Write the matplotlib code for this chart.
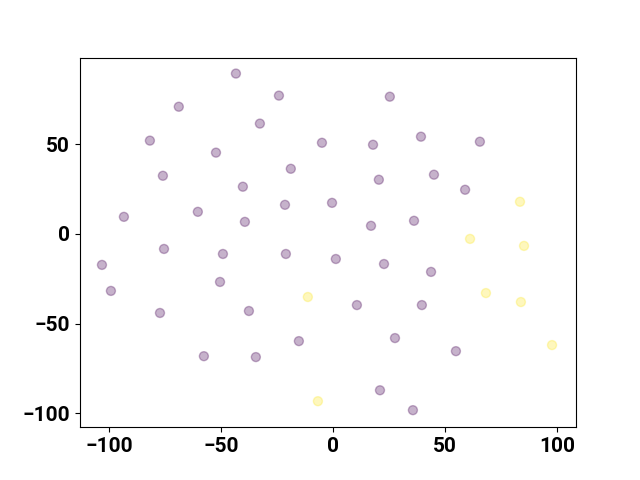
import matplotlib
matplotlib.use("Agg")
import matplotlib.pyplot as plt
import numpy as np

x = [-43.3, -68.8, -24.1, 25.4, -81.7, -52.2, -32.6, -4.9, 17.9, 39.3, 65.6,
     -75.9, -40.2, -18.8, 20.5, 45.1, 59.0, 83.5, -93.3, -60.3, -39.3, -21.4,
     -0.4, 17.0, 36.2, 61.2, 85.3, -75.4, -49.1, -21.0, 1.3, -103.1, 22.8,
     43.8, -99.1, -50.4, -11.2, 68.3, -37.5, 10.7, 39.7, 83.9, -77.2, -15.2,
     27.7, 54.9, 97.8, -57.6, -34.4, 21.0, -6.7, 35.7]
y = [89.4, 70.9, 77.1, 76.5, 52.0, 45.3, 61.5, 50.8, 49.7, 54.2, 51.4,
     32.4, 26.3, 36.3, 30.2, 33.0, 24.6, 17.9, 9.5, 12.3, 6.7, 16.2,
     17.3, 4.5, 7.3, -2.8, -6.7, -8.4, -11.2, -11.2, -14.0, -17.3, -16.8,
     -21.2, -31.8, -26.8, -35.2, -33.0, -43.0, -39.7, -39.7, -38.0, -44.1, -59.8,
     -58.1, -65.4, -62.0, -68.2, -68.7, -87.2, -93.3, -98.3]
label = [0, 0, 0, 0, 0, 0, 0, 0, 0, 0, 0,
         0, 0, 0, 0, 0, 0, 1, 0, 0, 0, 0,
         0, 0, 0, 1, 1, 0, 0, 0, 0, 0, 0,
         0, 0, 0, 1, 1, 0, 0, 0, 1, 0, 0,
         0, 0, 1, 0, 0, 0, 1, 0]

plt.rcParams['font.family'] = ['Roboto', 'DejaVu Sans']
plt.rcParams['font.weight'] = 'bold'

fig, ax = plt.subplots(figsize=(6.4, 4.8), dpi=100)
ax.scatter(x, y, c=label, cmap='viridis', alpha=0.3, s=42)
ax.set_xlim(-112.9, 108.5)
ax.set_ylim(-107.8, 98.3)
ax.set_xticks([-100, -50, 0, 50, 100])
ax.set_yticks([-100, -50, 0, 50])
for lab in ax.get_xticklabels() + ax.get_yticklabels():
    lab.set_fontsize(15)
    lab.set_fontweight('bold')
fig.savefig("out.png", dpi=100)
